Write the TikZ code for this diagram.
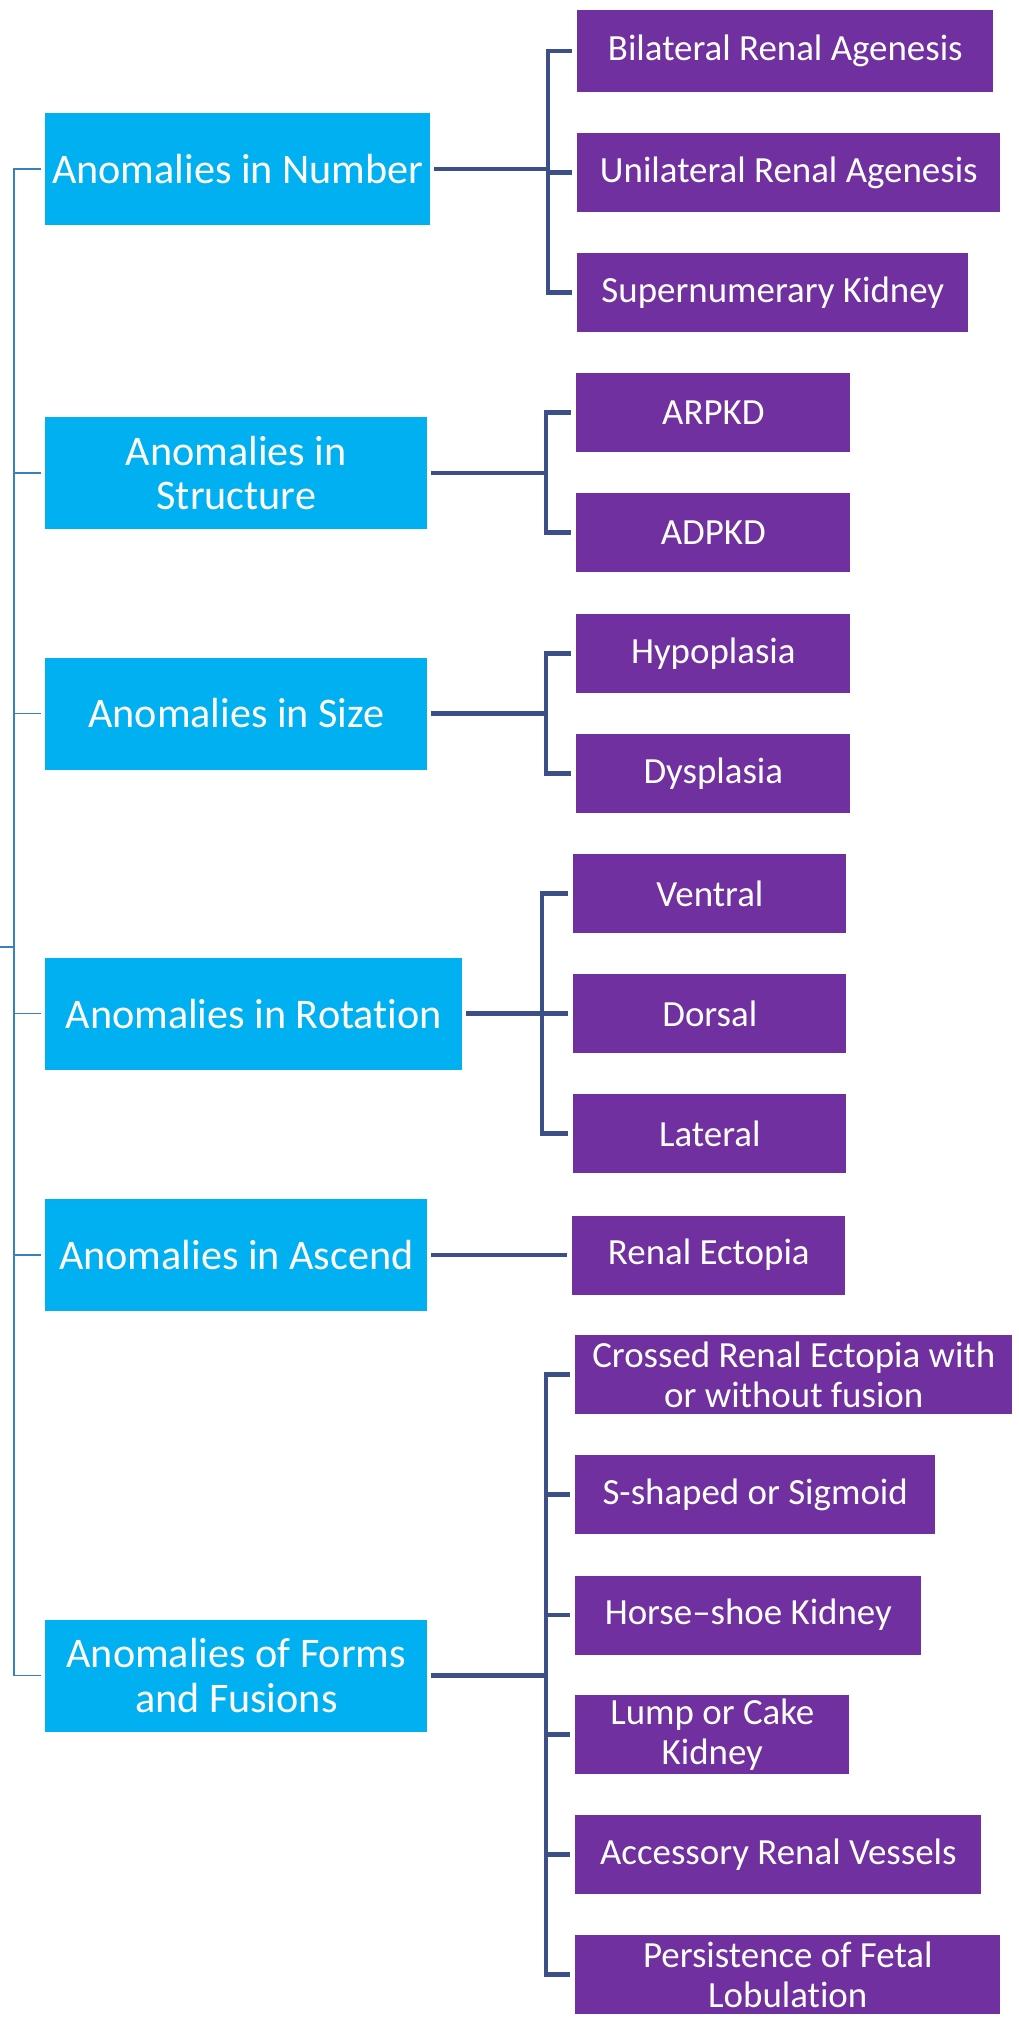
\documentclass[tikz,border=0pt]{standalone}
\usepackage{fontspec}
\setmainfont{Carlito}[Ligatures=NoCommon]
\usetikzlibrary{positioning}
\definecolor{catblue}{HTML}{00B0F0}
\definecolor{leafpurple}{HTML}{7030A0}
\definecolor{linkblue}{HTML}{3C4F88}
\definecolor{rootblue}{HTML}{3A80C0}

\begin{document}
\begin{tikzpicture}[x=0.02cm,y=-0.02cm,
    cat/.style={fill=catblue,text=white,font=\fontsize{24}{25.5}\selectfont,align=center,
      minimum height=2.24cm,inner sep=0pt,anchor=west},
    leaf/.style={fill=leafpurple,text=white,font=\fontsize{21}{22.7}\selectfont,align=center,
      minimum height=1.58cm,inner sep=0pt,anchor=west},
    link/.style={draw=linkblue,line width=2.6pt},
    root/.style={draw=rootblue,line width=1.1pt}]
      \useasboundingbox (0,0) rectangle (1018,2022);
      % categories
      \node[cat,minimum width=7.7cm] (num) at (45,169) {Anomalies in Number};
      \node[cat,minimum width=7.64cm] (struc) at (45,473) {Anomalies in\\Structure};
      \node[cat,minimum width=7.64cm] (size) at (45,713.5) {Anomalies in Size};
      \node[cat,minimum width=8.34cm] (rot) at (45,1013.5) {Anomalies in Rotation};
      \node[cat,minimum width=7.64cm] (asc) at (45,1255) {Anomalies in Ascend};
      \node[cat,minimum width=7.64cm] (form) at (45,1675.5) {Anomalies of Forms\\and Fusions};
      % leaves
      \node[leaf,minimum width=8.32cm,minimum height=1.64cm] (bil) at (577,51) {Bilateral Renal Agenesis};
      \node[leaf,minimum width=8.46cm] (uni) at (577,172.5) {Unilateral Renal Agenesis};
      \node[leaf,minimum width=7.82cm] (sup) at (577,292.5) {Supernumerary Kidney};
      \node[leaf,minimum width=5.48cm] (arp) at (576,412.5) {ARPKD};
      \node[leaf,minimum width=5.48cm] (adp) at (576,532.5) {ADPKD};
      \node[leaf,minimum width=5.48cm] (hyp) at (576,653.5) {Hypoplasia};
      \node[leaf,minimum width=5.48cm] (dys) at (576,773.5) {Dysplasia};
      \node[leaf,minimum width=5.46cm] (ven) at (573,893.5) {Ventral};
      \node[leaf,minimum width=5.46cm] (dor) at (573,1013.5) {Dorsal};
      \node[leaf,minimum width=5.46cm] (lat) at (573,1133.5) {Lateral};
      \node[leaf,minimum width=5.46cm] (ect) at (572,1255) {Renal Ectopia};
      \node[leaf,minimum width=8.74cm] (cro) at (575,1374.5) {Crossed Renal Ectopia with\\or without fusion};
      \node[leaf,minimum width=7.2cm] (sig) at (575,1494.5) {S-shaped or Sigmoid};
      \node[leaf,minimum width=6.92cm] (hor) at (575,1615) {Horse–shoe Kidney};
      \node[leaf,minimum width=5.48cm] (lum) at (575,1734.5) {Lump or Cake\\Kidney};
      \node[leaf,minimum width=8.12cm] (acc) at (575,1854.5) {Accessory Renal Vessels};
      \node[leaf,minimum width=8.5cm] (per) at (575,1974.5) {Persistence of Fetal\\Lobulation};
      % bracket columns
      \coordinate (rx) at (14,0);
      \coordinate (stub) at (0,947);
      \coordinate (bnum) at (548,0);
      \coordinate (bstr) at (546,0);
      \coordinate (bsiz) at (546,0);
      \coordinate (brot) at (542,0);
      \coordinate (bfor) at (546,0);
      % left spine
      \draw[root] ([xshift=-2pt]num.west) -- (num.west -| rx) -- (form.west -| rx) -- ([xshift=-2pt]form.west);
      \begin{scope}[every edge/.style={root}]
      \path (struc.west -| rx) edge ([xshift=-2pt]struc.west);
      \path (size.west -| rx) edge ([xshift=-2pt]size.west);
      \path (rot.west -| rx) edge ([xshift=-2pt]rot.west);
      \path (asc.west -| rx) edge ([xshift=-2pt]asc.west);
      \path (stub) edge (stub -| rx);
      \end{scope}
      % brackets
      \draw[link] ([xshift=-3pt]bil.west) -- (bil.west -| bnum) -- (sup.west -| bnum) -- ([xshift=-3pt]sup.west);
      \draw[link] ([xshift=-3pt]arp.west) -- (arp.west -| bstr) -- (adp.west -| bstr) -- ([xshift=-3pt]adp.west);
      \draw[link] ([xshift=-3pt]hyp.west) -- (hyp.west -| bsiz) -- (dys.west -| bsiz) -- ([xshift=-3pt]dys.west);
      \draw[link] ([xshift=-3pt]ven.west) -- (ven.west -| brot) -- (lat.west -| brot) -- ([xshift=-3pt]lat.west);
      \draw[link] ([xshift=-3pt]cro.west) -- (cro.west -| bfor) -- (per.west -| bfor) -- ([xshift=-3pt]per.west);
      \begin{scope}[every edge/.style={link}]
      \path ([xshift=2pt]num.east) edge (num.east -| bnum);
      \path (uni.west -| bnum) edge ([xshift=-3pt]uni.west);
      \path ([xshift=2pt]struc.east) edge (struc.east -| bstr);
      \path ([xshift=2pt]size.east) edge (size.east -| bsiz);
      \path ([xshift=2pt]rot.east) edge (rot.east -| brot);
      \path (dor.west -| brot) edge ([xshift=-3pt]dor.west);
      \path ([xshift=2pt]asc.east) edge ([xshift=-3pt]ect.west);
      \path ([xshift=2pt]form.east) edge (form.east -| bfor);
      \path (sig.west -| bfor) edge ([xshift=-3pt]sig.west);
      \path (hor.west -| bfor) edge ([xshift=-3pt]hor.west);
      \path (lum.west -| bfor) edge ([xshift=-3pt]lum.west);
      \path (acc.west -| bfor) edge ([xshift=-3pt]acc.west);
      \end{scope}
\end{tikzpicture}
\end{document}
